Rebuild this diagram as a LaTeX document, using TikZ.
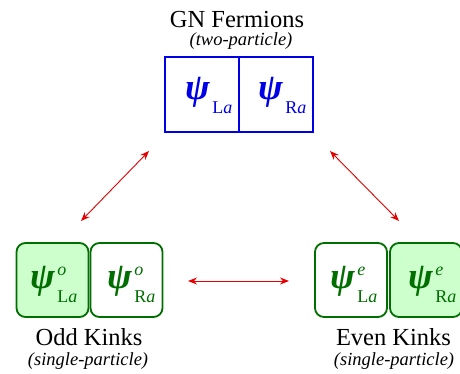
\documentclass[tikz,border=0pt]{standalone}
\usepackage{fontspec}
\setmainfont{Liberation Serif}
\usetikzlibrary{arrows.meta,calc}
\definecolor{gnblue}{RGB}{0,0,230}
\definecolor{kgreen}{RGB}{0,110,0}
\definecolor{kfill}{RGB}{204,255,204}
\definecolor{arrred}{RGB}{230,0,0}
\begin{document}
\begin{tikzpicture}[x=1pt,y=-1pt,
  gnbox/.style={draw=gnblue,line width=1.8pt,minimum width=74pt,minimum height=75pt,inner sep=0pt},
  kbox/.style={draw=kgreen,line width=1.8pt,rounded corners=9pt,minimum width=72pt,minimum height=74pt,inner sep=0pt},
  kfilled/.style={kbox,fill=kfill},
  title/.style={font=\fontsize{24.5}{24.5}\selectfont,anchor=base,inner sep=0pt},
  sub/.style={font=\fontsize{18.5}{18.5}\selectfont\itshape,anchor=base,inner sep=0pt},
  psi/.style={font=\fontsize{37}{37}\selectfont\bfseries\itshape,anchor=base west,inner sep=0pt},
  idx/.style={font=\fontsize{18}{18}\selectfont,anchor=base west,inner sep=0pt},
  link/.style={draw=arrred,line width=0.9pt,{Stealth[length=9pt,width=7pt]}-{Stealth[length=9pt,width=7pt]}}]
\useasboundingbox (0,0) rectangle (460,373);
% top
\node[title] (gnt) at (237,27) {GN Fermions};
\node[sub] (gns) at (241,45) {(two-particle)};
\node[gnbox] (gl) at (202,94.5) {};
\node[gnbox] (gr) at (276,94.5) {};
\node[psi,text=gnblue] (glp) at (185,99) {ψ};
\node[idx,text=gnblue] (gls) at ($(glp.base east)+(2,14)$) {L\textit{a}};
\node[psi,text=gnblue] (grp) at (258,99) {ψ};
\node[idx,text=gnblue] (grs) at ($(grp.base east)+(2,14)$) {R\textit{a}};
% odd
\node[kfilled] (ol) at (52.5,280) {};
\node[kbox] (or) at (126.5,280) {};
\node[psi,text=kgreen] (olp) at (30,288) {ψ};
\node[idx,text=kgreen,font=\fontsize{18}{18}\selectfont\itshape] (olu) at ($(olp.base east)+(2,-13)$) {o};
\node[idx,text=kgreen] (ols) at ($(olp.base east)+(2,14)$) {L\textit{a}};
\node[psi,text=kgreen] (orp) at (107,288) {ψ};
\node[idx,text=kgreen,font=\fontsize{18}{18}\selectfont\itshape] (oru) at ($(orp.base east)+(2,-13)$) {o};
\node[idx,text=kgreen] (ors) at ($(orp.base east)+(2,14)$) {R\textit{a}};
\node[title] (ot) at (89,345) {Odd Kinks};
\node[sub] (os) at (88,365) {(single-particle)};
% even
\node[kbox] (el) at (351,280) {};
\node[kfilled] (er) at (426,280) {};
\node[psi,text=kgreen] (elp) at (330,288) {ψ};
\node[idx,text=kgreen,font=\fontsize{18}{18}\selectfont\itshape] (elu) at ($(elp.base east)+(2,-13)$) {e};
\node[idx,text=kgreen] (els) at ($(elp.base east)+(2,14)$) {L\textit{a}};
\node[psi,text=kgreen] (erp) at (408,288) {ψ};
\node[idx,text=kgreen,font=\fontsize{18}{18}\selectfont\itshape] (eru) at ($(erp.base east)+(2,-13)$) {e};
\node[idx,text=kgreen] (ers) at ($(erp.base east)+(2,14)$) {R\textit{a}};
\node[title] (et) at (393.5,345) {Even Kinks};
\node[sub] (es) at (394,365) {(single-particle)};
% arrows
\coordinate (a1) at (81,221);
\coordinate (a2) at (149,151);
\coordinate (b1) at (330,151);
\coordinate (b2) at (399,221);
\coordinate (c1) at (188,281);
\coordinate (c2) at (289,281);
\draw[link] (a1) -- (a2);
\draw[link] (b1) -- (b2);
\draw[link] (c1) -- (c2);
\end{tikzpicture}
\end{document}
